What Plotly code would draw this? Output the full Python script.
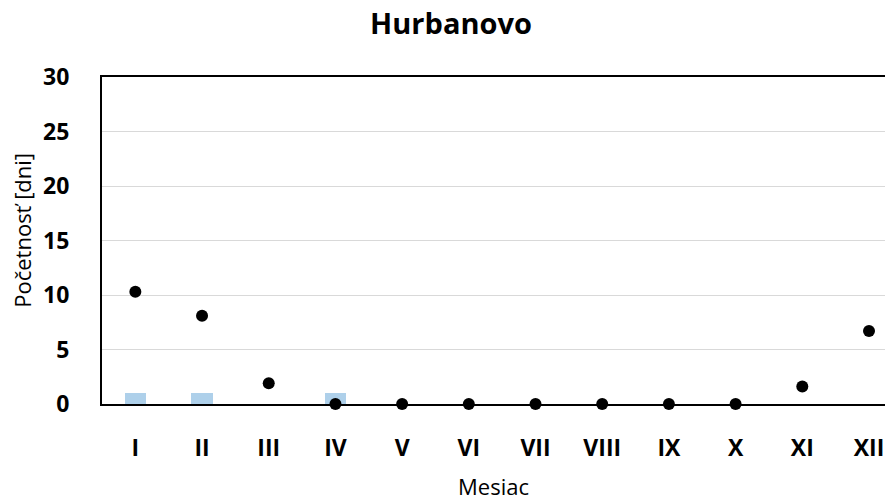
import plotly.graph_objects as go

months = ["I", "II", "III", "IV", "V", "VI", "VII", "VIII", "IX", "X", "XI", "XII"]
dot_values = [10.3, 8.1, 1.9, 0, 0, 0, 0, 0, 0, 0, 1.6, 6.7]
bar_values = [1, 1, None, 1, None, None, None, None, None, None, None, None]
y_ticks = [0, 5, 10, 15, 20, 25, 30]

FONT = "Open Sans"
OFF = 8  # page body margin offset

fig = go.Figure()
fig.add_trace(go.Bar(
    x=months, y=bar_values, width=0.32,
    marker=dict(color="#AED0EA", line=dict(width=0)),
    showlegend=False,
))
fig.add_trace(go.Scatter(
    x=months, y=dot_values, mode="markers",
    marker=dict(color="black", size=12),
    cliponaxis=False, showlegend=False,
))

fig.update_layout(
    width=893, height=497,
    margin=dict(l=102 - OFF, r=OFF, t=77 - OFF, b=93 + OFF),
    paper_bgcolor="white", plot_bgcolor="white",
    font=dict(family=FONT, color="black"),
    title=dict(text="<b>Hurbanovo</b>", font=dict(size=29, family=FONT, color="black"),
               x=(451 - OFF) / 893, xanchor="center", y=1 - (23.5 - OFF) / 497, yanchor="middle",
               xref="container", yref="container"),
    bargap=0,
    annotations=[
        dict(text="Mesiac", xref="paper", yref="paper", x=0.495, y=-0.252,
             xanchor="center", yanchor="middle", showarrow=False,
             font=dict(size=22, family=FONT, color="black")),
        dict(text="Početnosť [dni]", xref="paper", yref="paper", x=-0.101, y=0.53,
             xanchor="center", yanchor="middle", textangle=-90, showarrow=False,
             font=dict(size=22, family=FONT, color="black")),
    ],
)
fig.update_xaxes(
    type="category", range=[-0.5, 11.36],
    showline=True, linecolor="black", linewidth=2, mirror=True,
    showgrid=False, ticks="",
    tickfont=dict(size=23, family=FONT, color="black", weight="bold"),
    ticklabelstandoff=22,
)
fig.update_yaxes(
    range=[0, 30], tickvals=y_ticks,
    showline=True, linecolor="black", linewidth=2, mirror=False,
    showgrid=True, gridcolor="#D9D9D9", gridwidth=1.3, zeroline=False, ticks="",
    tickfont=dict(size=23, family=FONT, color="black", weight="bold"),
    ticklabelstandoff=26,
)

fig.write_html("out.html")
